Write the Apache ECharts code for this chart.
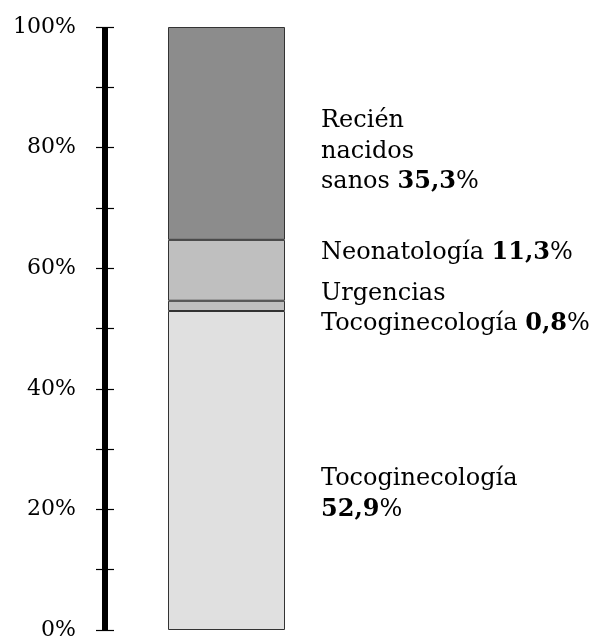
<!DOCTYPE html>
<html>
<head>
<meta charset="utf-8">
<script src="https://cdn.jsdelivr.net/npm/echarts@6/dist/echarts.min.js"></script>
<style>html,body{margin:0;padding:0;background:#fff}#c{width:594px;height:641px}</style>
</head>
<body>
<div id="c"></div>
<script>
const categories = ['Total'];
const seriesNames = ['Tocoginecología', 'Urgencias Tocoginecología', 'Neonatología', 'Recién nacidos sanos'];
// segment heights as drawn in the picture
const values = [52.9, 1.7, 10.1, 35.3];
// printed percentages
const labelPercents = ['52,9', '0,8', '11,3', '35,3'];
const labelLines = [
  ['Tocoginecología', ''],
  ['Urgencias', 'Tocoginecología '],
  ['Neonatología '],
  ['Recién', 'nacidos', 'sanos ']
];
const colors = ['#e0e0e0', '#bfbfbf', '#bfbfbf', '#8c8c8c'];
const labelOffsets = [[0, 24], [0, 3], [0, -18], [0, 18]];
const yTickValues = [0, 20, 40, 60, 80, 100];

const FONT = '"DejaVu Serif", serif';
const chart = echarts.init(document.getElementById('c'));

const series = seriesNames.map((name, i) => ({
  name: name,
  type: 'bar',
  stack: 'total',
  barWidth: 117,
  data: [values[i]],
  itemStyle: { color: colors[i], borderColor: '#333', borderWidth: 1 },
  label: {
    show: true,
    position: 'right',
    distance: 36,
    offset: labelOffsets[i],
    align: 'left',
    fontFamily: FONT,
    fontSize: 24,
    color: '#000',
    lineHeight: 30.5,
    formatter: () => {
      const lines = labelLines[i].slice();
      lines[lines.length - 1] = lines[lines.length - 1] + '{b|' + labelPercents[i] + '}%';
      return lines.join('\n');
    },
    rich: {
      b: { fontFamily: FONT, fontSize: 24, fontWeight: 'bold', color: '#000', lineHeight: 30.5 }
    }
  }
}));

chart.setOption({
  animation: false,
  grid: { left: 105, right: 246, top: 27, bottom: 10.5, containLabel: false },
  xAxis: {
    type: 'category',
    data: categories,
    axisLine: { show: false },
    axisTick: { show: false },
    axisLabel: { show: false }
  },
  yAxis: [
    {
      type: 'value', min: 0, max: 100, interval: 10,
      axisLine: { show: true, lineStyle: { color: '#000', width: 6, cap: 'butt' } },
      axisTick: { show: true, length: 9, lineStyle: { color: '#000', width: 1.2 } },
      splitLine: { show: false },
      axisLabel: {
        margin: 29,
        fontFamily: FONT, fontSize: 22, color: '#000',
        formatter: v => (yTickValues.indexOf(v) >= 0 ? v + '%' : '')
      }
    },
    {
      type: 'value', min: 0, max: 100, interval: 10, position: 'left', offset: 0,
      axisLine: { show: false },
      axisTick: { show: true, inside: true, length: 9, lineStyle: { color: '#000', width: 1.2 } },
      splitLine: { show: false },
      axisLabel: { show: false }
    }
  ],
  series: series
});
</script>
</body>
</html>
